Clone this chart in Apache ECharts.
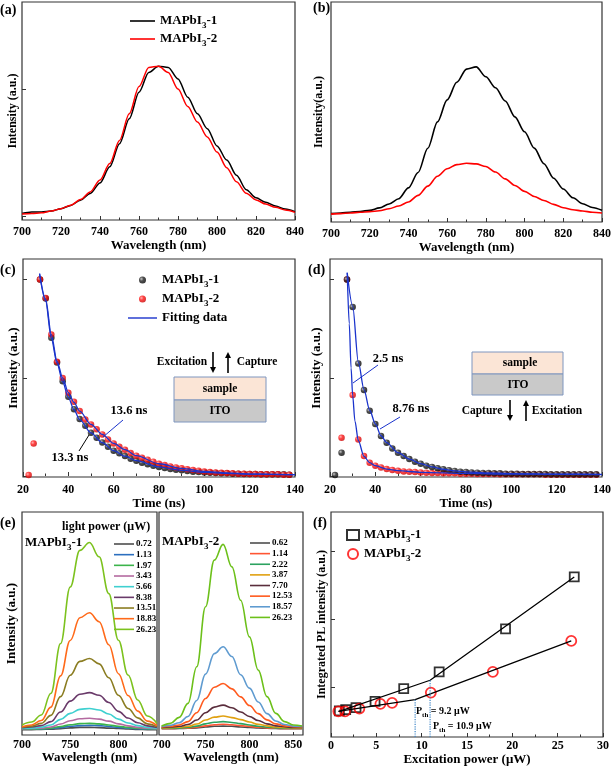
<!DOCTYPE html>
<html><head><meta charset="utf-8">
<script src="https://cdn.jsdelivr.net/npm/echarts@6/dist/echarts.min.js"></script>
<style>html,body{margin:0;padding:0;background:#fff}#c{width:614px;height:767px}</style>
</head><body><div id="c"></div><script>
// ---------- data: (a) & (b) PL spectra ----------
const waveAB = [700,705,710,715,720,725,730,735,740,745,750,755,760,765,770,775,780,785,790,795,800,805,810,815,820,825,830,835,840];
const aMAPbI1 = [3.0,3.7,3.7,4.1,5.2,6.7,9.1,12.2,17.0,24.4,35.0,46.4,58.6,67.7,70.5,70.0,64.7,56.3,48.7,41.9,34.0,27.5,20.5,13.9,10.2,8.1,6.4,5.0,3.8];
const aMAPbI2 = [2.7,3.0,3.3,4.1,5.2,6.8,9.4,12.9,18.3,25.9,36.5,48.7,61.2,70.0,70.5,67.7,60.1,52.1,44.9,38.1,31.2,24.0,17.5,12.3,9.2,7.3,5.8,4.6,3.5];
const bMAPbI1 = [3.8,4.1,4.4,4.8,5.3,6.4,8.2,10.6,15.5,22.5,33.5,45.5,55.5,63.5,69.5,70.5,66.0,61.0,55.0,47.8,41.0,33.6,26.5,19.9,15.0,11.0,8.3,6.6,5.3];
const bMAPbI2 = [3.6,3.8,4.1,4.4,4.7,5.1,6.0,7.3,9.1,12.1,16.3,20.8,24.2,26.1,26.7,26.4,25.2,22.7,19.6,16.6,13.9,11.6,9.8,8.0,6.5,5.6,5.0,4.4,4.1];
const aYTicks = [1.5, 60];

// ---------- data: (c) & (d) TRPL decays ----------
const tDecay = [27.5,30,32.5,35,37.5,40,42.5,45,47.5,50,52.5,55,57.5,60,62.5,65,67.5,70,72.5,75,77.5,80,82.5,85,87.5,90,92.5,95,97.5,100,102.5,105,107.5,110,112.5,115,117.5,120,122.5,125,127.5,130,132.5,135,137.5];
const cMAPbI1 = [2.0,1.807,1.407,1.156,0.966,0.807,0.681,0.580,0.512,0.441,0.390,0.342,0.298,0.258,0.231,0.203,0.176,0.156,0.136,0.119,0.105,0.092,0.081,0.071,0.064,0.058,0.051,0.044,0.041,0.037,0.034,0.031,0.027,0.027,0.024,0.024,0.020,0.020,0.020,0.017,0.017,0.017,0.017,0.017,0.014];
const cMAPbI2 = [2.0,1.814,1.441,1.163,0.997,0.847,0.756,0.661,0.576,0.525,0.475,0.424,0.373,0.332,0.298,0.268,0.234,0.207,0.186,0.166,0.146,0.125,0.112,0.098,0.088,0.078,0.068,0.061,0.054,0.047,0.041,0.037,0.034,0.031,0.027,0.024,0.024,0.020,0.020,0.017,0.017,0.017,0.017,0.014,0.014];
const cEarlyT = [22.5, 24.7];
const cEarly2 = [0.01, 0.33];
const tFitC = [27.3,30,32.5,35,37.5,40,42.5,45,50,55,60,65,70,80,90,100,110,120,130,140];
const cFit1 = [2.06,1.78,1.40,1.15,0.96,0.80,0.675,0.575,0.44,0.34,0.258,0.202,0.156,0.093,0.058,0.037,0.027,0.020,0.017,0.014];
const cFit2 = [2.06,1.80,1.44,1.17,1.00,0.85,0.75,0.66,0.525,0.424,0.332,0.268,0.207,0.125,0.078,0.047,0.031,0.020,0.017,0.014];

const dMAPbI1 = [2.0,1.722,1.146,0.875,0.664,0.529,0.407,0.339,0.281,0.237,0.203,0.173,0.146,0.125,0.105,0.092,0.078,0.068,0.058,0.051,0.044,0.041,0.037,0.034,0.031,0.031,0.027,0.027,0.024,0.024,0.024,0.020,0.020,0.020,0.020,0.020,0.017,0.017,0.017,0.017,0.017,0.017,0.017,0.017,0.017];
const dMAPbI2 = [2.0,0.824,0.373,0.203,0.136,0.105,0.088,0.071,0.061,0.054,0.047,0.044,0.041,0.037,0.034,0.031,0.031,0.027,0.027,0.027,0.024,0.024,0.024,0.020,0.020,0.020,0.020,0.017,0.017,0.017,0.017,0.017,0.017,0.017,0.017,0.014,0.014,0.014,0.014,0.014,0.014,0.014,0.014,0.014,0.014];
const dEarlyT1 = [22.2, 25.1];
const dEarly1 = [0.01, 0.237];
const dEarlyT2 = [25.1];
const dEarly2 = [0.39];
const tFitD1 = [27.6,30,32.5,35,37.5,40,42.5,45,50,55,60,65,70,75,80,90,100,120,140];
const dFit1 = [2.07,1.73,1.16,0.88,0.67,0.532,0.41,0.34,0.238,0.173,0.126,0.093,0.069,0.052,0.043,0.031,0.025,0.019,0.016];
const tFitD2 = [27.6,28.5,29.3,30,31,32.5,35,37.5,40,45,50,60,80,100,120,140];
const dFit2 = [2.07,1.55,1.10,0.82,0.56,0.36,0.20,0.136,0.105,0.07,0.054,0.038,0.026,0.020,0.017,0.015];
const decayYTicks = [0, 1, 2];

// ---------- data: (e) power-dependent spectra ----------
const waveE1 = [700,710,720,730,740,750,760,770,780,790,800,810,820,830,840];
const powersE1 = ['0.72','1.13','1.97','3.43','5.66','8.38','13.51','18.83','26.23'];
const spectraE1 = [
  [2.4,2.4,2.5,2.6,2.8,3.2,3.4,3.4,3.3,3.1,2.9,2.7,2.5,2.4,2.4],
  [2.6,2.6,2.7,2.9,3.4,3.9,4.2,4.3,4.2,3.8,3.4,3.1,2.8,2.7,2.6],
  [2.7,2.7,2.8,3.1,3.8,4.6,5.1,5.2,5.0,4.5,3.9,3.4,3.0,2.8,2.7],
  [2.8,2.9,3.1,3.6,4.9,6.4,7.3,7.5,7.1,6.2,5.0,4.1,3.4,3.0,2.8],
  [3.0,3.1,3.5,4.5,7.0,9.7,11.5,11.9,11.2,9.4,7.1,5.4,4.2,3.4,3.1],
  [3.3,3.6,4.2,6.0,10.3,15.2,18.3,19.0,17.8,14.6,10.6,7.6,5.5,4.1,3.4],
  [3.5,4.0,5.2,8.8,17.2,26.8,33.0,34.3,31.9,25.7,17.8,11.9,7.7,5.0,3.8],
  [3.7,4.5,6.5,12.5,26.5,42.4,52.6,54.8,50.8,40.5,27.5,17.7,10.7,6.2,4.2],
  [4.5,5.8,9.0,18.7,41.0,66.4,82.8,86.3,79.9,63.4,42.5,26.9,15.7,8.5,5.2]
];
const waveE2 = [700,710,720,730,740,750,760,770,780,790,800,810,820,830,840,850,860];
const powersE2 = ['0.62','1.14','2.22','3.87','7.70','12.53','18.57','26.23'];
const spectraE2 = [
  [2.8,2.8,2.9,3.0,3.2,3.6,3.9,4.0,3.9,3.6,3.4,3.2,3.0,2.9,2.8,2.8,2.8],
  [2.9,2.9,3.0,3.1,3.5,4.1,4.6,4.8,4.6,4.2,3.8,3.5,3.2,3.0,2.9,2.9,2.9],
  [3.0,3.0,3.1,3.4,4.0,5.0,5.7,6.0,5.6,5.1,4.5,3.9,3.5,3.2,3.1,3.0,3.0],
  [3.2,3.3,3.5,3.9,4.9,6.7,8.0,8.5,7.8,6.9,5.8,4.8,4.1,3.6,3.3,3.2,3.2],
  [3.4,3.6,3.9,4.7,6.7,10.0,12.5,13.4,12.2,10.3,8.3,6.5,5.0,4.1,3.7,3.4,3.4],
  [3.6,3.9,4.5,6.0,10.0,16.4,21.4,23.1,20.7,17.1,13.2,9.6,6.8,5.0,4.1,3.7,3.6],
  [3.8,4.3,5.5,8.3,15.5,27.3,36.5,39.6,35.2,27.0,21.0,14.8,9.6,6.3,4.7,4.0,3.8],
  [4.0,5.2,7.9,14.2,30.6,57.5,78.4,85.5,75.4,60.4,44.0,29.1,17.2,9.7,6.0,4.5,4.0]
];
const e1Labels = [700,750,800];
const e1Ticks = [725,750,775,800,825];
const e2Labels = [700,750,800,850];
const e2Ticks = [725,750,775,800,825,850];

// ---------- data: (f) integrated PL vs power ----------
const fPower1 = [0.92,1.62,2.76,4.86,8.02,11.93,19.25,26.83];
const fIntens1 = [0.645,0.665,0.695,0.788,0.975,1.222,1.857,2.626];
const fPower2 = [0.81,1.55,3.13,5.45,6.74,11.01,17.85,26.5];
const fIntens2 = [0.640,0.640,0.680,0.749,0.764,0.916,1.222,1.680];
const fFitX1 = [0.9,10.93,26.83];
const fFitY1 = [0.64,1.099,2.626];
const fFitX2 = [0.8,9.28,26.5];
const fFitY2 = [0.638,0.813,1.68];
const pthX = [9.28, 10.93];
const pthTop = [0.813, 1.099];
const fYMin = 0.26, fYMax = 3.586;
const fYTicks = [1, 2, 3];

// ---------- styling / build ----------
const F = '"Liberation Serif","Times New Roman",serif';
const zip = (xs, ys) => xs.map((x, i) => [x, ys[i]]);
const colorsE1 = ['#4d4d4d','#2c6fbf','#3cb44b','#b46aa0','#3fd0d0','#6a3a6a','#8b7d22','#ff6a1a','#7cc21e'];
const colorsE2 = ['#4d4d4d','#ff5533','#2ca25f','#e0a010','#5a2d3c','#ff5a1e','#5f9bd0','#6cc01a'];

const gridBase = {show:true, borderColor:'#333', borderWidth:1.2, backgroundColor:'transparent'};
const grids = [
  {left:22, top:2, width:273, height:218},
  {left:331, top:2, width:272, height:220},
  {left:23, top:259, width:272, height:218},
  {left:330, top:259, width:273, height:218},
  {left:22, top:512, width:135, height:223},
  {left:159, top:512, width:144, height:223},
  {left:331, top:512, width:272, height:225}
].map(g => Object.assign({}, gridBase, g));

const nameStyle = (s) => ({color:'#000', fontFamily:F, fontWeight:'bold', fontSize:s});
const tickStyle = {color:'#333', width:1};
function xA(gi, min, max, interval, name, margin, gap, extra) {
  return Object.assign({
    type:'value', gridIndex:gi, min:min, max:max, interval:interval,
    axisLine:{show:false}, splitLine:{show:false},
    axisTick:{show:true, inside:true, length:4, lineStyle:tickStyle},
    minorTick:{show:true, splitNumber:2, length:2.5, lineStyle:tickStyle},
    axisLabel:{color:'#000', fontFamily:F, fontWeight:'bold', fontSize:12, margin:margin},
    name:name, nameLocation:'middle', nameGap:gap, nameTextStyle:nameStyle(13)
  }, extra || {});
}
function yA(gi, min, max, name, gap, size, ticks) {
  return {
    type:'value', gridIndex:gi, min:min, max:max,
    axisLine:{show:false}, splitLine:{show:false},
    axisLabel:{show:false},
    axisTick: ticks ? {show:true, inside:true, length:4, customValues:ticks, lineStyle:tickStyle} : {show:false},
    name:name, nameLocation:'middle', nameGap:gap, nameTextStyle:nameStyle(size)
  };
}

const xAxes = [
  xA(0, 700, 840, 20, 'Wavelength (nm)', 6, 19),
  xA(1, 700, 840, 20, 'Wavelength (nm)', 6, 19),
  xA(2, 20, 140, 20, 'Time (ns)', 7, 19),
  xA(3, 20, 140, 20, 'Time (ns)', 7, 19),
  xA(4, 700, 840, null, 'Wavelength (nm)', 3.5, 16, {
    axisLabel:{color:'#000', fontFamily:F, fontWeight:'bold', fontSize:12, margin:3.5, customValues:e1Labels},
    axisTick:{show:true, inside:true, length:3, customValues:e1Ticks, lineStyle:tickStyle}, minorTick:{show:false}}),
  xA(5, 697, 861, null, 'Wavelength (nm)', 3.5, 16, {
    axisLabel:{color:'#000', fontFamily:F, fontWeight:'bold', fontSize:12, margin:3.5, customValues:e2Labels},
    axisTick:{show:true, inside:true, length:3, customValues:e2Ticks, lineStyle:tickStyle}, minorTick:{show:false}}),
  xA(6, 0, 30, 5, 'Excitation power (\u03bcW)', 3, 14)
];
const yAxes = [
  yA(0, 0, 100, 'Intensity (a.u.)', 3, 12, aYTicks),
  yA(1, 0, 100, 'Intensity(a.u.)', 6, 12, null),
  yA(2, -0.01, 2.21, 'Intensity (a.u.)', 3, 13, decayYTicks),
  yA(3, -0.01, 2.21, 'Intensity (a.u.)', 7, 13, decayYTicks),
  yA(4, 0, 100, 'Intensity (a.u.)', 4, 13, null),
  yA(5, 0, 100, '', 4, 13, null),
  yA(6, fYMin, fYMax, 'Integrated PL intensity (a.u.)', 3, 12, fYTicks)
];

const sphere = (c0, c1, c2) => ({type:'radial', x:0.35, y:0.35, r:0.75,
  colorStops:[{offset:0, color:c0},{offset:0.4, color:c1},{offset:1, color:c2}]});
const blackSphere = sphere('#b8b8b8', '#222', '#000');
const redSphere = sphere('#ffa0a0', '#ff1414', '#c00000');

const line = (name, gi, data, color, width, extra) => Object.assign({
  type:'line', name:name, xAxisIndex:gi, yAxisIndex:gi, data:data, symbol:'none', showSymbol:false,
  smooth:0.3, smoothMonotone:'x', lineStyle:{color:color, width:width}, itemStyle:{color:color},
  animation:false, silent:true}, extra || {});
const scat = (name, gi, data, color, size, extra) => Object.assign({
  type:'scatter', name:name, xAxisIndex:gi, yAxisIndex:gi, data:data, symbol:'circle',
  symbolSize:size, itemStyle:{color:color}, animation:false, silent:true}, extra || {});

const series = [
  line('a1', 0, zip(waveAB, aMAPbI1), '#000', 1.5),
  line('a2', 0, zip(waveAB, aMAPbI2), '#ff0000', 1.5),
  line('b1', 1, zip(waveAB, bMAPbI1), '#000', 1.6),
  line('b2', 1, zip(waveAB, bMAPbI2), '#ff0000', 1.6),
  // (c)
  scat('c1', 2, zip(tDecay, cMAPbI1), blackSphere, 6.5),
  scat('c2', 2, zip(tDecay, cMAPbI2).concat(zip(cEarlyT, cEarly2)), redSphere, 6.5),
  line('cfit', 2, zip(tFitC, cFit1), '#1a33cc', 1.3),
  line('cfit2', 2, zip(tFitC, cFit2), '#1a33cc', 1.3),
  // (d)
  scat('d2', 3, zip(tDecay, dMAPbI2).concat(zip(dEarlyT2, dEarly2)), redSphere, 6.5),
  scat('d1', 3, zip(tDecay, dMAPbI1).concat(zip(dEarlyT1, dEarly1)), blackSphere, 6.5),
  line('dfit1', 3, zip(tFitD1, dFit1), '#1a33cc', 1.3),
  line('dfit2', 3, zip(tFitD2, dFit2), '#1a33cc', 1.3)
];
powersE1.forEach((p, i) => series.push(line('e1_' + p, 4, zip(waveE1, spectraE1[i]), colorsE1[i], 1.6, {smooth:0.4})));
powersE2.forEach((p, i) => series.push(line('e2_' + p, 5, zip(waveE2, spectraE2[i]), colorsE2[i], 1.6, {smooth:0.4})));
series.push(
  line('fl1', 6, zip(fFitX1, fFitY1), '#000', 1.3, {smooth:false}),
  line('fl2', 6, zip(fFitX2, fFitY2), '#000', 1.3, {smooth:false}),
  line('pth1', 6, [[pthX[0], fYMin], [pthX[0], pthTop[0]]], '#3d85c6', 1.2, {smooth:false, lineStyle:{color:'#3d85c6', width:1.2, type:'dotted'}}),
  line('pth2', 6, [[pthX[1], fYMin], [pthX[1], pthTop[1]]], '#3d85c6', 1.2, {smooth:false, lineStyle:{color:'#3d85c6', width:1.2, type:'dotted'}}),
  scat('f1', 6, zip(fPower1, fIntens1), 'rgba(0,0,0,0)', 9, {symbol:'rect', itemStyle:{color:'rgba(0,0,0,0)', borderColor:'#000', borderWidth:1.8}}),
  scat('f2', 6, zip(fPower2, fIntens2), 'rgba(0,0,0,0)', 10, {itemStyle:{color:'rgba(0,0,0,0)', borderColor:'#ff0000', borderWidth:1.8}})
);

const richL = {
  n:{fontFamily:F, fontWeight:'bold', fontSize:13, lineHeight:18, color:'#000'},
  s:{fontFamily:F, fontWeight:'bold', fontSize:9, lineHeight:10, verticalAlign:'bottom', color:'#000'}
};
const legendText = {
  a1:'{n|MAPbI}{s|3}{n|-1}', a2:'{n|MAPbI}{s|3}{n|-2}',
  c1:'{n|MAPbI}{s|3}{n|-1}', c2:'{n|MAPbI}{s|3}{n|-2}', cfit:'{n|Fitting data}',
  f1:'{n|MAPbI}{s|3}{n|-1}', f2:'{n|MAPbI}{s|3}{n|-2}'
};
const bar = (w, h) => 'path://M0,0H' + w + 'V' + h + 'H0Z';
const legBase = {orient:'vertical', padding:0, selectedMode:false, inactiveColor:'#000'};
const legends = [
  Object.assign({}, legBase, {left:130, top:12, itemGap:0, itemWidth:25, itemHeight:14,
    data:[{name:'a1', icon:bar(25, 1.6)}, {name:'a2', icon:bar(25, 1.6)}],
    formatter:n => legendText[n], textStyle:{fontFamily:F, fontWeight:'bold', fontSize:13, lineHeight:18, rich:richL}}),
  Object.assign({}, legBase, {left:128, top:271, itemGap:1, itemWidth:29, itemHeight:7,
    data:['c1', 'c2', {name:'cfit', icon:bar(29, 1.4)}],
    formatter:n => legendText[n], textStyle:{fontFamily:F, fontWeight:'bold', fontSize:13, lineHeight:18, rich:richL}}),
  Object.assign({}, legBase, {left:346, top:526, itemGap:1, itemWidth:12, itemHeight:10, data:['f1','f2'],
    formatter:n => legendText[n], textStyle:{fontFamily:F, fontWeight:'bold', fontSize:13, lineHeight:18, rich:richL}}),
  Object.assign({}, legBase, {left:114, top:539, itemGap:0.67, itemWidth:20, itemHeight:6,
    data:powersE1.map(p => ({name:'e1_' + p, icon:bar(20, 1.6)})), formatter:n => n.slice(3),
    textStyle:{fontFamily:F, fontWeight:'bold', fontSize:9, lineHeight:10, color:'#000', padding:[0,0,0,-3]}}),
  Object.assign({}, legBase, {left:250, top:538, itemGap:0.63, itemWidth:20, itemHeight:6,
    data:powersE2.map(p => ({name:'e2_' + p, icon:bar(20, 1.6)})), formatter:n => n.slice(3),
    textStyle:{fontFamily:F, fontWeight:'bold', fontSize:9, lineHeight:10, color:'#000', padding:[0,0,0,-3]}})
];

// ---------- annotations ----------
const txt = (x, y, text, size, align, color) => ({type:'text', x:x, y:y, z:50, silent:true,
  style:{text:text, fill:color || '#000', font:'bold ' + size + 'px ' + F, align:align || 'center', verticalAlign:'middle'}});
const rtxt = (x, y, text, size, subSize, align) => ({type:'text', x:x, y:y, z:50, silent:true,
  style:{text:text, align:align || 'left', verticalAlign:'middle',
    rich:{n:{fontFamily:F, fontWeight:'bold', fontSize:size, lineHeight:size + 5, fill:'#000'},
          s:{fontFamily:F, fontWeight:'bold', fontSize:subSize, lineHeight:subSize + 1, verticalAlign:'bottom', fill:'#000'}}}});
const seg = (x1, y1, x2, y2, color, w) => ({type:'line', z:50, silent:true, shape:{x1:x1, y1:y1, x2:x2, y2:y2}, style:{stroke:color, lineWidth:w || 1}});
function arrow(x, y1, y2) {
  const d = y2 > y1 ? 1 : -1;
  return [seg(x, y1, x, y2 - d * 5, '#000', 1.6),
    {type:'polygon', z:50, silent:true, shape:{points:[[x - 3, y2 - d * 6], [x + 3, y2 - d * 6], [x, y2]]}, style:{fill:'#000'}}];
}
const box = (x, y, w, h, fill) => ({type:'rect', z:45, silent:true, shape:{x:x, y:y, width:w, height:h}, style:{fill:fill, stroke:'#7f96bf', lineWidth:1}});

const graphics = [
  txt(0, 10, '(a)', 14, 'left'), txt(313, 8, '(b)', 14, 'left'), txt(0, 270, '(c)', 14, 'left'),
  txt(308, 270, '(d)', 14, 'left'), txt(0, 523, '(e)', 14, 'left'), txt(313, 523, '(f)', 14, 'left'),
  // (c) inset
  txt(182, 362, 'Excitation', 11.5), txt(257, 362, 'Capture', 11.5),
  ...arrow(213, 352, 373), ...arrow(228, 373, 352),
  box(174, 377, 92, 23, '#fbe5d6'), box(174, 400, 92, 22, '#c9c9c9'),
  txt(220, 389, 'sample', 11.5), txt(220, 411, 'ITO', 11.5),
  txt(129, 411, '13.6 ns', 12.5), txt(70, 458, '13.3 ns', 12.5),
  seg(103, 437, 123, 420, '#1a33cc', 1), seg(79, 451, 89, 435, '#000', 1),
  // (d) inset
  box(472, 352, 91, 22, '#fbe5d6'), box(472, 374, 91, 21, '#c9c9c9'),
  txt(520, 363, 'sample', 11.5), txt(518, 385, 'ITO', 11.5),
  txt(482, 411, 'Capture', 11.5), txt(557, 411, 'Excitation', 11.5),
  ...arrow(510, 400, 421), ...arrow(526, 421, 400),
  txt(388, 359, '2.5 ns', 12.5), txt(411, 409, '8.76 ns', 12.5),
  seg(353, 383, 378, 365, '#1a33cc', 1), seg(380, 429, 400, 417, '#1a33cc', 1),
  // (e)
  txt(62, 527, 'light power (\u03bcW)', 12, 'left'),
  rtxt(25, 543, '{n|MAPbI}{s|3}{n|-1}', 13, 9), rtxt(162, 542, '{n|MAPbI}{s|3}{n|-2}', 13, 9),
  // (f)
  rtxt(416, 711, '{n|P}{s|th}{n| = 9.2 \u03bcW}', 10, 7), rtxt(433, 726, '{n|P}{s|th}{n| = 10.9 \u03bcW}', 10, 7)
];

const chart = echarts.init(document.getElementById('c'), null, {renderer:'canvas'});
chart.setOption({
  animation:false, backgroundColor:'#fff',
  grid:grids, xAxis:xAxes, yAxis:yAxes, legend:legends, series:series, graphic:graphics
});
</script></body></html>
